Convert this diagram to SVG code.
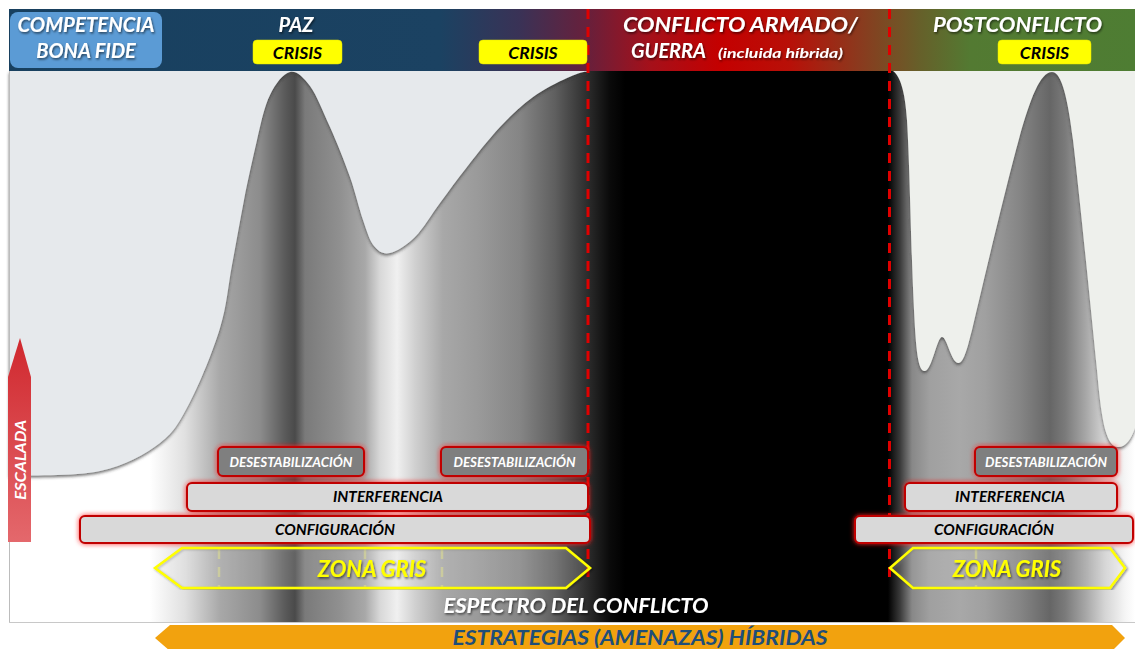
<svg xmlns="http://www.w3.org/2000/svg" width="1135" height="649" viewBox="0 0 1135 649">
<defs>
<style>
.t{font-family:Lato,"Open Sans","Liberation Sans",sans-serif;font-weight:bold;font-style:italic}
.hw{fill:#fff;font-size:20px;filter:url(#tsh)}
.crisis{fill:#ffff00;stroke:#e6e600;stroke-width:0.5}
.ct{fill:#000;font-size:17.5px;text-anchor:middle}
.des{fill:#7f7f7f;stroke:#c00000;stroke-width:2;filter:url(#rglow)}
.bar{fill:#d9d9d9;stroke:#c00000;stroke-width:2;filter:url(#rglow)}
.dt{fill:#fff;font-size:13px;text-anchor:middle}
.bt{fill:#000;font-size:15px;text-anchor:middle}
.yl{stroke:#ffff00;stroke-width:3;stroke-dasharray:10 8;filter:url(#lsh)}
.yf{stroke:#ffff66;stroke-width:2.5;stroke-dasharray:10 8;stroke-opacity:0.35}
.rl{stroke:#e00000;stroke-width:3;stroke-dasharray:10 8}
.zg{fill:#ffffff;fill-opacity:0.12;stroke:#ffff00;stroke-width:2.5;filter:url(#lsh)}
.zt{fill:#ffff00;font-size:22px;text-anchor:middle;filter:url(#tsh)}
</style>
<linearGradient id="band" gradientUnits="userSpaceOnUse" x1="9" y1="0" x2="1135" y2="0">
<stop offset="0" stop-color="#ffffff"/>
<stop offset="0.1252" stop-color="#ffffff"/>
<stop offset="0.1563" stop-color="#e0e0e0"/>
<stop offset="0.1874" stop-color="#a8a8a8"/>
<stop offset="0.2229" stop-color="#8c8c8c"/>
<stop offset="0.2451" stop-color="#5a5a5a"/>
<stop offset="0.2540" stop-color="#4a4a4a"/>
<stop offset="0.2629" stop-color="#7a7a7a"/>
<stop offset="0.2940" stop-color="#909090"/>
<stop offset="0.3162" stop-color="#a8a8a8"/>
<stop offset="0.3295" stop-color="#d8d8d8"/>
<stop offset="0.3446" stop-color="#f0f0f0"/>
<stop offset="0.3606" stop-color="#d0d0d0"/>
<stop offset="0.3854" stop-color="#a8a8a8"/>
<stop offset="0.4183" stop-color="#999999"/>
<stop offset="0.4538" stop-color="#858585"/>
<stop offset="0.4849" stop-color="#5f5f5f"/>
<stop offset="0.5115" stop-color="#303030"/>
<stop offset="0.5337" stop-color="#0a0a0a"/>
<stop offset="0.5471" stop-color="#000000"/>
<stop offset="0.7806" stop-color="#000000"/>
<stop offset="0.7913" stop-color="#3a3a3a"/>
<stop offset="0.8020" stop-color="#888888"/>
<stop offset="0.8179" stop-color="#a0a0a0"/>
<stop offset="0.8446" stop-color="#a8a8a8"/>
<stop offset="0.8668" stop-color="#a0a0a0"/>
<stop offset="0.8979" stop-color="#858585"/>
<stop offset="0.9245" stop-color="#666666"/>
<stop offset="0.9378" stop-color="#7a7a7a"/>
<stop offset="0.9556" stop-color="#a5a5a5"/>
<stop offset="0.9734" stop-color="#d5d5d5"/>
<stop offset="0.9911" stop-color="#f5f5f5"/>
<stop offset="1" stop-color="#ffffff"/>
</linearGradient>
<linearGradient id="hdr" gradientUnits="userSpaceOnUse" x1="9" y1="0" x2="1135" y2="0">
<stop offset="0" stop-color="#18405f"/>
<stop offset="0.3828" stop-color="#1b4262"/>
<stop offset="0.4538" stop-color="#3a3256"/>
<stop offset="0.516" stop-color="#6a1f3a"/>
<stop offset="0.5693" stop-color="#a5101a"/>
<stop offset="0.6314" stop-color="#c40000"/>
<stop offset="0.6936" stop-color="#b81008"/>
<stop offset="0.7558" stop-color="#8a3a1e"/>
<stop offset="0.809" stop-color="#66602a"/>
<stop offset="0.8535" stop-color="#537a32"/>
<stop offset="1" stop-color="#4e7d33"/>
</linearGradient>
<linearGradient id="esc" x1="0" y1="0" x2="0" y2="1">
<stop offset="0" stop-color="#d0282e"/>
<stop offset="1" stop-color="#e4686c"/>
</linearGradient>
<filter id="tsh" x="-10%" y="-30%" width="120%" height="160%">
<feDropShadow dx="1" dy="1.5" stdDeviation="1" flood-color="#000" flood-opacity="0.6"/>
</filter>
<filter id="lsh" x="-20%" y="-5%" width="140%" height="110%">
<feDropShadow dx="1.5" dy="1" stdDeviation="0.8" flood-color="#000" flood-opacity="0.45"/>
</filter>
<filter id="ssh" x="-5%" y="-5%" width="110%" height="115%">
<feDropShadow dx="0" dy="2" stdDeviation="1.5" flood-color="#333" flood-opacity="0.7"/>
</filter>
<filter id="rglow" x="-10%" y="-60%" width="120%" height="220%">
<feDropShadow dx="0" dy="0" stdDeviation="2.5" flood-color="#ff1a1a" flood-opacity="0.9"/>
</filter>
</defs>

<rect width="1135" height="649" fill="#ffffff"/>

<g id="spectrum-background">
<rect x="9" y="71" width="1126" height="551" fill="url(#band)"/>
<path id="sky-left" filter="url(#ssh)" fill="#e6e9ec" d="M 9 71 L 9 476 C 24 475, 75 476.5, 100 471 C 125 465.5, 145 454.5, 160 443 C 175 431.5, 180 421, 190 402 C 200 382.8, 213 351, 220 328 C 227 305, 228 286, 232 265 C 236 243.7, 240 221, 244 200 C 248 179, 253 157.5, 257 140 C 261 122.5, 264.5 106, 270 95 C 275.5 83.7, 283 73.5, 290 72 C 296.7 70.5, 303 77, 310 86 C 316.7 95, 323 112, 330 127 C 336.7 142, 344.5 161.5, 350 177 C 355.5 192.5, 359 208.5, 363 220 C 367 231.5, 369.5 240.5, 374 246 C 378.5 251.5, 383 254.5, 390 253 C 396.8 251.5, 406.7 245.3, 415 237 C 423.3 228.7, 431.3 214.7, 440 203 C 448.7 191.3, 457 179.7, 467 167 C 477 154.3, 489 138.7, 500 127 C 511 115.3, 521.8 105.2, 533 97 C 544.2 88.8, 557.8 82.2, 567 78 C 576.2 73.8, 584.5 71, 588 72 L 588 71 Z"/>
<path id="sky-right" filter="url(#ssh)" fill="#eef0ec" d="M 893 71 C 900 76, 905 90, 907 120 C 910 170, 911 250, 914 310 C 916 350, 918 372, 925 371 C 932 370, 937 337, 942 337 C 947 337, 951 362, 958 363 C 964 364, 968 345, 972 330 C 985 275, 1005 190, 1020 135 C 1030 100, 1040 72, 1052 72 C 1062 72, 1068 100, 1073 140 C 1080 200, 1090 300, 1097 370 C 1101 415, 1105 445, 1117 447 C 1125 448, 1131 440, 1135 428 L 1135 71 Z"/>
<line x1="9.5" y1="71" x2="9.5" y2="622" stroke="#bcbcbc" stroke-width="1"/>
<line x1="9" y1="622.5" x2="1135" y2="622.5" stroke="#c8c8c8" stroke-width="1"/>
</g>

<g id="connectors" fill="none">
<line class="yl" x1="219" y1="73" x2="219" y2="547"/>
<line class="yl" x1="365" y1="73" x2="365" y2="547"/>
<line class="yl" x1="442" y1="73" x2="442" y2="547"/>
<line class="yl" x1="976" y1="73" x2="976" y2="547"/>
<line class="yl" x1="1116" y1="73" x2="1116" y2="547"/>
</g>

<g id="header">
<rect x="9" y="9" width="1126" height="62" fill="url(#hdr)"/>
</g>

<g id="connectors-red" fill="none">
<line class="rl" x1="588" y1="9" x2="588" y2="580"/>
<line class="rl" x1="889.5" y1="9" x2="889.5" y2="580"/>
</g>

<g id="node-competencia">
<rect x="10" y="12" width="152" height="56" rx="8" fill="#5b9bd5"/>
<text class="t hw" x="86" y="32" text-anchor="middle" textLength="137" lengthAdjust="spacingAndGlyphs">COMPETENCIA</text>
<text class="t hw" x="86" y="58" text-anchor="middle">BONA FIDE</text>
</g>
<g id="node-paz">
<text class="t hw" x="296" y="32" text-anchor="middle">PAZ</text>
</g>
<g id="node-crisis-1">
<rect class="crisis" x="253" y="40" width="89" height="24" rx="4"/>
<text class="t ct" x="297.5" y="58.5">CRISIS</text>
</g>
<g id="node-crisis-2">
<rect class="crisis" x="479" y="40" width="108" height="24" rx="4"/>
<text class="t ct" x="533" y="58.5">CRISIS</text>
</g>
<g id="node-conflicto">
<text class="t hw" x="740.5" y="32" text-anchor="middle" textLength="235" lengthAdjust="spacingAndGlyphs">CONFLICTO ARMADO/</text>
<text class="t hw" x="631" y="58">GUERRA</text>
<text class="t hw" x="718" y="58" font-size="14" style="font-size:14px" textLength="125" lengthAdjust="spacingAndGlyphs">(incluida híbrida)</text>
</g>
<g id="node-postconflicto">
<text class="t hw" x="1017.5" y="32" text-anchor="middle" textLength="169" lengthAdjust="spacingAndGlyphs">POSTCONFLICTO</text>
</g>
<g id="node-crisis-3">
<rect class="crisis" x="998" y="40" width="93" height="24" rx="4"/>
<text class="t ct" x="1044.5" y="58.5">CRISIS</text>
</g>

<g id="node-desestabilizacion-1">
<rect class="des" x="218" y="447" width="146" height="29" rx="5"/>
<text class="t dt" x="291" y="466.5" textLength="123" lengthAdjust="spacingAndGlyphs">DESESTABILIZACIÓN</text>
</g>
<g id="node-desestabilizacion-2">
<rect class="des" x="441" y="447" width="147" height="29" rx="5"/>
<text class="t dt" x="514.5" y="466.5" textLength="122" lengthAdjust="spacingAndGlyphs">DESESTABILIZACIÓN</text>
</g>
<g id="node-interferencia-1">
<rect class="bar" x="187" y="483" width="401" height="28" rx="5"/>
<text class="t bt" x="388" y="502" textLength="110" lengthAdjust="spacingAndGlyphs">INTERFERENCIA</text>
</g>
<g id="node-configuracion-1">
<rect class="bar" x="80" y="516" width="510" height="27" rx="5"/>
<text class="t bt" x="335" y="535" textLength="120" lengthAdjust="spacingAndGlyphs">CONFIGURACIÓN</text>
</g>
<g id="node-zona-gris-1">
<line class="yf" x1="219" y1="549" x2="219" y2="588"/>
<line class="yf" x1="365" y1="549" x2="365" y2="588"/>
<line class="yf" x1="442" y1="549" x2="442" y2="588"/>
<polygon class="zg" points="155,568 182,548 566,548 590,568 566,588 182,588"/>
<text class="t zt" x="372" y="577">ZONA GRIS</text>
</g>

<g id="node-desestabilizacion-3">
<rect class="des" x="975" y="447" width="142" height="29" rx="5"/>
<text class="t dt" x="1046" y="466.5" textLength="122" lengthAdjust="spacingAndGlyphs">DESESTABILIZACIÓN</text>
</g>
<g id="node-interferencia-2">
<rect class="bar" x="905" y="483" width="212" height="28" rx="5"/>
<text class="t bt" x="1010" y="502" textLength="110" lengthAdjust="spacingAndGlyphs">INTERFERENCIA</text>
</g>
<g id="node-configuracion-2">
<rect class="bar" x="855" y="516" width="278" height="27" rx="5"/>
<text class="t bt" x="994" y="535" textLength="120" lengthAdjust="spacingAndGlyphs">CONFIGURACIÓN</text>
</g>
<g id="node-zona-gris-2">
<line class="yf" x1="976" y1="549" x2="976" y2="588"/>
<polygon class="zg" points="890,568 913,548 1110,548 1125,568 1110,588 913,588"/>
<text class="t zt" x="1007" y="577">ZONA GRIS</text>
</g>

<g id="node-espectro">
<text class="t hw" x="576" y="613" text-anchor="middle" textLength="265" lengthAdjust="spacingAndGlyphs">ESPECTRO DEL CONFLICTO</text>
</g>

<g id="node-estrategias">
<polygon points="155,638 170,625 1112,625 1125,638 1112,651 170,651" fill="#f2a20e"/>
<text class="t" x="640" y="645" text-anchor="middle" font-size="20" fill="#1f4e79" textLength="375" lengthAdjust="spacingAndGlyphs">ESTRATEGIAS (AMENAZAS) HÍBRIDAS</text>
</g>

<g id="node-escalada">
<polygon points="20,338 31,377 31,542 8,542 8,377" fill="url(#esc)"/>
<text class="t" transform="translate(26,460) rotate(-90)" x="0" y="0" text-anchor="middle" font-size="16" fill="#fff" textLength="80" lengthAdjust="spacingAndGlyphs">ESCALADA</text>
</g>
</svg>
